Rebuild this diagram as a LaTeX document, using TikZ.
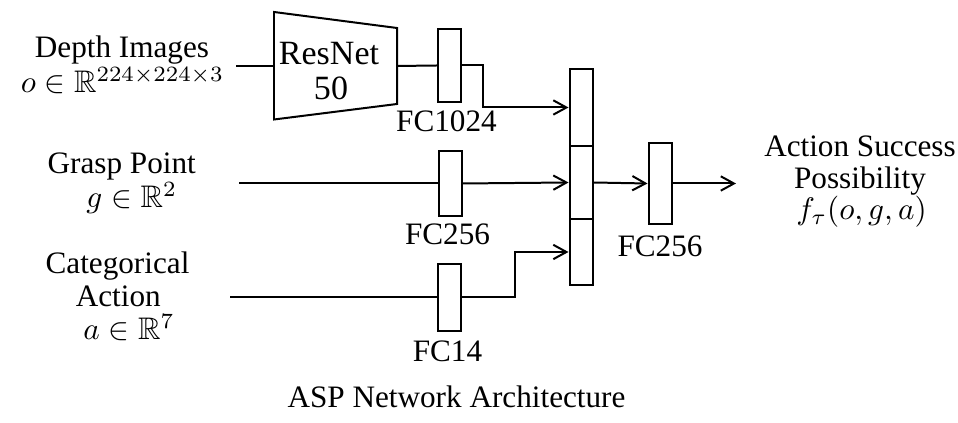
\documentclass[tikz,border=0pt]{standalone}
\usepackage{amssymb}
\usepackage{fontspec}
\setmainfont{Liberation Serif}
\usetikzlibrary{arrows.meta}
\newcommand{\pxu}{0.3205pt}
\tikzset{
  lbl/.style={anchor=base, inner sep=0pt, font=\fontsize{10}{12}\selectfont},
  fcbox/.style={draw, rectangle, inner sep=0pt, line width=0.64pt, minimum width=23*\pxu},
  conn/.style={line width=0.64pt},
  arr/.style={conn, -{Straight Barb[length=4.2pt,width=4.6pt,line width=0.64pt]}}
}
\begin{document}
\begin{tikzpicture}[x=0.3205pt,y=-0.3205pt]
\useasboundingbox (0,0) rectangle (958,423);
% ResNet trapezoid
\draw[line width=0.64pt, line join=miter] (274,12) -- (397,28) -- (397,104) -- (274,119.5) -- cycle;
\coordinate (rnL) at (274,66);
\coordinate (rnR) at (397,66);
\node[lbl, font=\fontsize{10.9}{13}\selectfont] (rn1) at (329,65) {ResNet};
\node[lbl, font=\fontsize{10.9}{13}\selectfont] (rn2) at (331,100) {50};
% FC boxes
\node[fcbox, minimum height=73*\pxu] (fcA) at (449.5,65.5) {};
\node[fcbox, minimum height=65*\pxu] (fcB) at (450,183.5) {};
\node[fcbox, minimum height=67*\pxu] (fcC) at (449.5,297.5) {};
\node[fcbox, minimum height=81*\pxu] (fcD) at (660,183.5) {};
% concat column
\node[fcbox, minimum height=77*\pxu] (cat1) at (581,107.5) {};
\node[fcbox, minimum height=73*\pxu] (cat2) at (581,182.5) {};
\node[fcbox, minimum height=66*\pxu] (cat3) at (581,252) {};
% inputs / output
\coordinate (inA) at (236,66);
\coordinate (inB) at (239,183.5);
\coordinate (inC) at (230,297.5);
\coordinate (out) at (736,183.5);
% connectors
\draw[conn] (inA) -- (rnL);
\draw[conn] (rnR) -- (fcA.west);
\draw[arr] (fcA.east) -- (483,65.5) |- (cat1.west);
\draw[conn] (inB) -- (fcB.west);
\draw[arr] (fcB.east) -- (cat2.west);
\draw[conn] (inC) -- (fcC.west);
\draw[arr] (fcC.east) -- (515,297.5) |- (cat3.west);
\draw[arr] (cat2.east) -- (fcD.west);
\draw[arr] (fcD.east) -- (out);
% labels
\node[lbl] (l1) at (122,57.3) {Depth Images};
\node[lbl] (l2) at (122.5,92.5) {$o\in\mathbb{R}^{224\times224\times3}$};
\node[lbl] (l3) at (121.7,173.3) {Grasp Point};
\node[lbl] (l4) at (131.7,207.5) {$g\in\mathbb{R}^{2}$};
\node[lbl] (l5) at (117.5,273.3) {Categorical};
\node[lbl] (l6) at (118.3,306.7) {Action};
\node[lbl] (l7) at (129,340) {$a\in\mathbb{R}^{7}$};
\node[lbl] (r1) at (860,156.7) {Action Success};
\node[lbl] (r2) at (860,188.3) {Possibility};
\node[lbl] (r3) at (861.5,220) {$f_\tau(o,g,a)$};
\node[lbl] (fa) at (446.5,131.7) {FC1024};
\node[lbl] (fb) at (447.5,245) {FC256};
\node[lbl] (fc) at (447.5,361.7) {FC14};
\node[lbl] (fd) at (660,256.7) {FC256};
\node[lbl] (cap) at (456.5,407.7) {ASP Network Architecture};
\end{tikzpicture}
\end{document}
